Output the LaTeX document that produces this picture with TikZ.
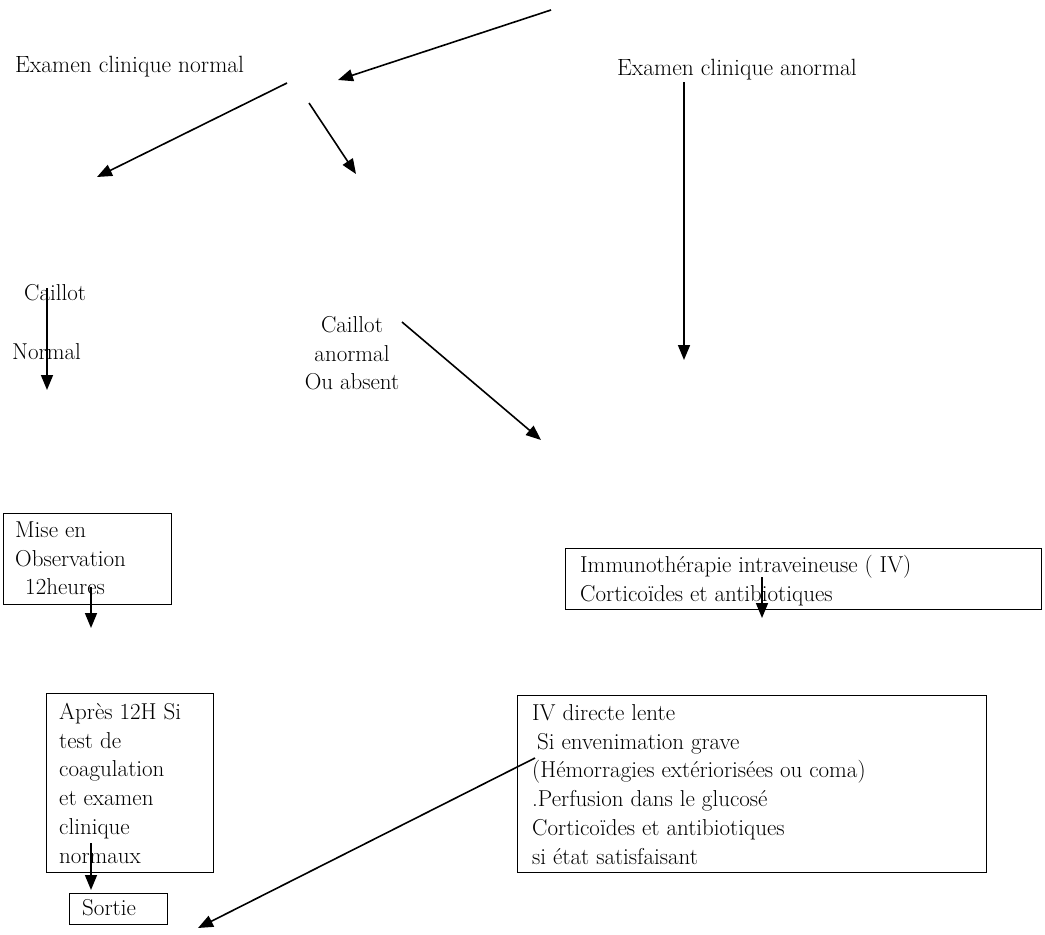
\documentclass[tikz,border=0pt]{standalone}
\usetikzlibrary{arrows.meta}
\newcommand{\firstrule}{\rule{0pt}{18pt}}
\begin{document}
\begin{tikzpicture}[x=1pt,y=-1pt,
  lbl/.style={inner sep=0pt, font=\fontsize{23}{28.8}\selectfont, align=left},
  toplbl/.style={inner sep=0pt, font=\fontsize{23.5}{28}\selectfont},
  boxed/.style={draw, line width=1.2pt, inner sep=0pt, anchor=north west},
  arr/.style={line width=1.6pt, -{Triangle[length=15pt,width=12pt]}}]
\useasboundingbox[fill=white] (0,0) rectangle (1045,935);

% top labels
\node[toplbl, anchor=base west] (exnorm) at (15,72) {Examen clinique normal};
\node[toplbl, anchor=base west] (exanorm) at (617,75) {Examen clinique anormal};

% middle labels
\node[lbl, anchor=base west] (caillotn) at (24,300) {Caillot};
\node[lbl, anchor=base west] (normal) at (12,359) {Normal};
\node[lbl, anchor=north, align=center] (caillota) at (352,332-18) {\firstrule Caillot\\anormal\\Ou absent};

% boxes
\node[boxed, minimum width=168pt, minimum height=91pt] (misebox) at (3,513) {};
\node[lbl, anchor=north west] (misetxt) at (15,537-18) {\firstrule Mise en\\Observation\\\hspace*{10pt}12heures};

\node[boxed, minimum width=167pt, minimum height=179pt] (apresbox) at (46,693) {};
\node[lbl, anchor=north west] (aprestxt) at (59,719-18) {\firstrule Après 12H Si\\test de\\coagulation\\et examen\\clinique\\normaux};

\node[boxed, minimum width=98pt, minimum height=31pt] (sortiebox) at (69,893) {};
\node[lbl, anchor=base west] (sortietxt) at (82,915) {Sortie};

\node[boxed, minimum width=476pt, minimum height=61pt] (immunobox) at (565,548) {};
\node[lbl, anchor=north west] (immunotxt) at (580,572-18) {\firstrule Immunothérapie intraveineuse ( IV)\\Corticoïdes et antibiotiques};

\node[boxed, minimum width=469pt, minimum height=177pt] (ivbox) at (517,695) {};
\node[lbl, anchor=north west] (ivtxt) at (532,720-18) {\firstrule IV directe lente\\\hspace*{5pt}Si envenimation grave\\(Hémorragies extériorisées ou coma)\\.Perfusion dans le glucosé\\Corticoïdes et antibiotiques\\si état satisfaisant};

% connector end points
\coordinate (a1s) at (551,10);   \coordinate (a1e) at (338,80);
\coordinate (a2s) at (287,83);   \coordinate (a2e) at (97,177);
\coordinate (a3s) at (309,103);  \coordinate (a3e) at (356,174);
\coordinate (a4s) at (684,82);   \coordinate (a4e) at (684,360);
\coordinate (a5s) at (47,288);   \coordinate (a5e) at (47,390);
\coordinate (a6s) at (402,322);  \coordinate (a6e) at (541,440);
\coordinate (a7s) at (91,587);   \coordinate (a7e) at (91,628);
\coordinate (a8s) at (91,843);   \coordinate (a8e) at (91,890);
\coordinate (a9s) at (762,577);  \coordinate (a9e) at (762,618);
\coordinate (a10s) at (535,758); \coordinate (a10e) at (198,928);

\draw[arr] (a1s) -- (a1e);
\draw[arr] (a2s) -- (a2e);
\draw[arr] (a3s) -- (a3e);
\draw[arr] (a4s) -- (a4e);
\draw[arr] (a5s) -- (a5e);
\draw[arr] (a6s) -- (a6e);
\draw[arr] (a7s) -- (a7e);
\draw[arr] (a8s) -- (a8e);
\draw[arr] (a9s) -- (a9e);
\draw[arr] (a10s) -- (a10e);
\end{tikzpicture}
\end{document}
